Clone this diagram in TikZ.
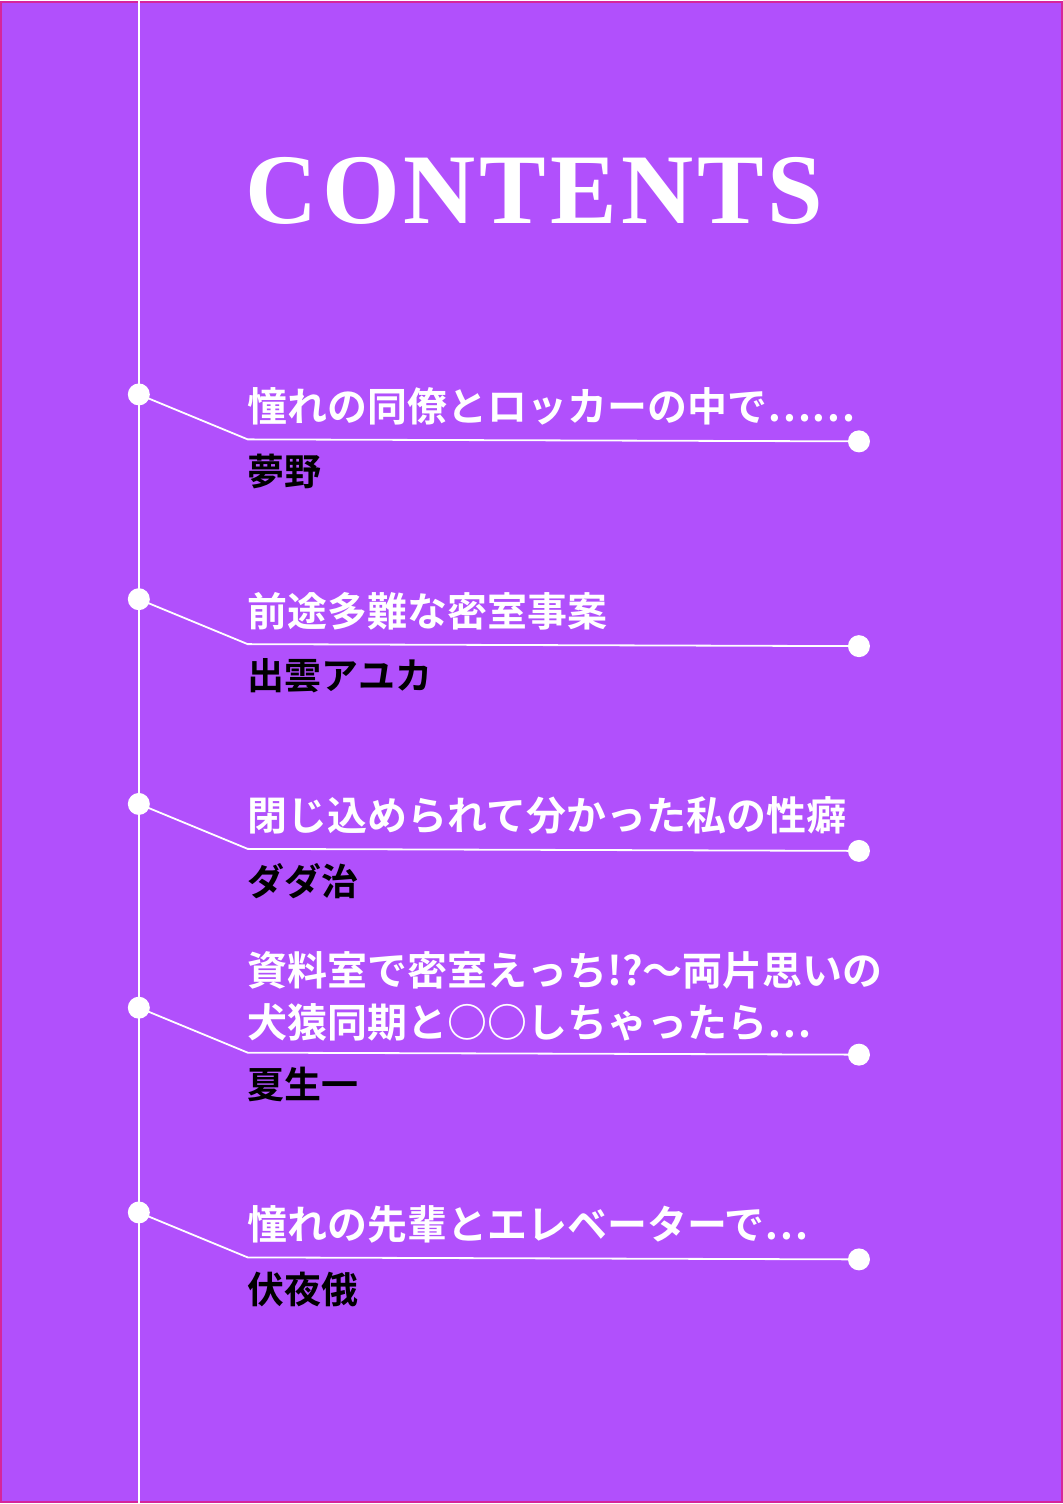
\documentclass[tikz,border=0pt]{standalone}
\usepackage{fontspec}
\setmainfont{Liberation Serif}
\newfontfamily\cjk{Noto Sans CJK JP}[BoldFont={Noto Sans CJK JP Bold}]
\begin{document}
\begin{tikzpicture}[x=1pt,y=-1pt,
  dot/.style={circle,fill=white,draw=none,minimum size=22pt,inner sep=0pt},
  ttl/.style={anchor=west,text=white,font=\cjk\bfseries\fontsize{40}{52}\selectfont,inner sep=0pt,align=left},
  auth/.style={anchor=west,text=black,font=\cjk\bfseries\fontsize{37}{40}\selectfont,inner sep=0pt},
  ln/.style={white,line width=1.8pt}]
\definecolor{bg}{HTML}{B150FC}
\fill[bg] (0,0) rectangle (1064,1504);
\draw[magenta!60!bg,line width=2pt] (1,1) rectangle (1063,1503);
\coordinate (vt) at (139,0); \coordinate (vb) at (139,1504);
\draw[ln] (vt) -- (vb);
\node[text=white,font=\bfseries\fontsize{100}{100}\selectfont\addfontfeature{LetterSpace=4},inner sep=0pt,anchor=west] (head) at (246,190) {CONTENTS};
\foreach \i/\y/\t/\a in {
 1/394/{憧れの同僚とロッカーの中で……}/{夢野},
 2/599/{前途多難な密室事案}/{出雲アユカ},
 3/804/{閉じ込められて分かった私の性癖}/{ダダ治},
 5/1213/{憧れの先輩とエレベーターで…}/{伏夜俄}}{
  \node[dot] (l\i) at (139,\y) {};
  \node[dot] (r\i) at (860,\y+47) {};
  \coordinate (k\i) at (248,\y+45);
  \draw[ln] (l\i.center) -- (k\i) -- (r\i.center);
  \node[ttl] (t\i) at (248,\y+12) {\t};
  \node[auth] (a\i) at (248,\y+77) {\a};
}
\node[dot] (l4) at (139,1008) {};
\node[dot] (r4) at (860,1055) {};
\coordinate (k4) at (248,1053);
\draw[ln] (l4.center) -- (k4) -- (r4.center);
\node[ttl,anchor=south west] (t4) at (248,1042) {資料室で密室えっち!?～両片思いの\\犬猿同期と○○しちゃったら…};
\node[auth] (a4) at (248,1085) {夏生一};
\end{tikzpicture}
\end{document}
